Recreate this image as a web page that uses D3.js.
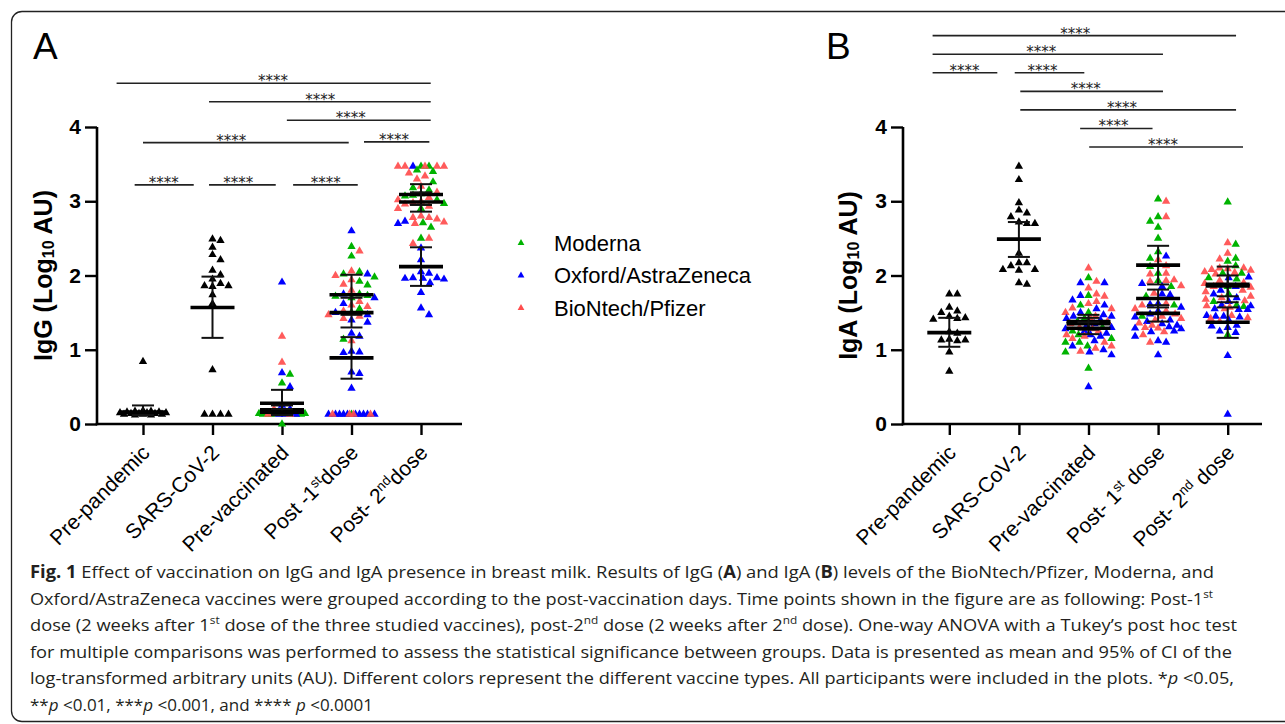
<!DOCTYPE html>
<html>
<head>
<meta charset="utf-8">
<script src="https://cdn.jsdelivr.net/npm/d3@7"></script>
<style>
  body { margin: 0; background: #fff; }
  svg { display: block; font-family: "Liberation Sans", Arial, Helvetica, sans-serif; }
</style>
</head>
<body>
<svg id="fig" width="1285" height="724"></svg>
<script>
var categories = ["Pre-pandemic", "SARS-CoV-2", "Pre-vaccinated", "Post-1st dose", "Post-2nd dose"];
var vaccines = ["Moderna", "Oxford/AstraZeneca", "BioNtech/Pfizer"];
var yTicks = [0, 1, 2, 3, 4];

// IgG (log10 AU), panel A
var iggPrePandemic = [0.84, 0.18, 0.17, 0.17, 0.16, 0.16, 0.15, 0.15, 0.15, 0.14, 0.14, 0.14, 0.13, 0.13, 0.13, 0.12, 0.12];
var iggSarsCov2 = [2.49, 2.47, 2.38, 2.28, 2.21, 2.07, 2.01, 1.95, 1.89, 1.86, 1.86, 1.85, 1.74, 1.62, 0.73, 0.13, 0.13, 0.13, 0.13];
var iggPreVacModerna = [0.67, 0.55, 0.15, 0.14, 0.14, 0.13, 0.13, 0.13, 0.13, 0.0];
var iggPreVacAstra = [1.91, 0.69, 0.50, 0.25, 0.20, 0.15, 0.14, 0.13, 0.13, 0.13];
var iggPreVacPfizer = [1.18, 0.83, 0.20, 0.15, 0.14, 0.13, 0.13];
var iggDose1Moderna = [2.39, 2.26, 2.05, 2.02, 1.98, 1.92, 1.87, 1.75, 1.73, 1.72, 1.70, 1.55, 1.50, 1.14, 0.13];
var iggDose1Astra = [2.60, 2.02, 1.75, 1.70, 1.62, 1.50, 1.47, 1.40, 1.37, 1.22, 1.18, 0.98, 0.97, 0.96, 0.70, 0.68, 0.48, 0.13, 0.13, 0.13, 0.13, 0.13, 0.13, 0.13, 0.13, 0.13, 0.13];
var iggDose1Pfizer = [2.33, 2.06, 2.00, 1.94, 1.88, 1.80, 1.65, 1.60, 1.58, 1.52, 1.47, 1.45, 1.42, 1.12, 0.13, 0.13, 0.13, 0.13];
var iggDose2Moderna = [3.47, 3.47, 3.42, 3.40, 3.26, 3.18, 3.15, 3.10, 3.08, 3.07, 3.02, 2.97, 2.90, 2.71, 2.65, 2.50];
var iggDose2Astra = [3.47, 2.73, 2.70, 2.37, 2.21, 2.05, 2.03, 1.97, 1.97, 1.96, 1.96, 1.95, 1.90, 1.77, 1.56, 1.47];
var iggDose2Pfizer = [3.47, 3.47, 3.47, 3.47, 3.47, 3.38, 3.34, 3.30, 3.20, 3.12, 3.05, 3.02, 3.00, 2.98, 2.96, 2.93, 2.90, 2.80, 2.78, 2.78, 2.76, 2.72, 2.70, 2.50, 2.43];
// [category index, mean, lower 95% CI, upper 95% CI]
var iggMeanCI = [
  [0, 0.16, 0.12, 0.25],
  [1, 1.57, 1.16, 1.985],
  [2, 0.28, 0.12, 0.46], [2, 0.19, 0.13, 0.25], [2, 0.16, 0.12, 0.20],
  [3, 1.74, 1.47, 2.01], [3, 1.50, 1.30, 1.70], [3, 0.89, 0.61, 1.17],
  [4, 3.09, 2.95, 3.23], [4, 2.99, 2.86, 3.12], [4, 2.12, 1.86, 2.38]
];
// [from category, to category, level, label at]
var iggSig = [
  [-0.38, 4.14, 4.59, 1.87], [0.95, 4.14, 4.34, 2.55], [2.07, 4.14, 4.09, 2.99],
  [0.0, 2.96, 3.79, 1.27], [3.18, 4.12, 3.80, 3.61],
  [-0.12, 0.73, 3.22, 0.30], [0.95, 1.91, 3.22, 1.37], [2.16, 3.09, 3.22, 2.63]
];

// IgA (log10 AU), panel B
var igaPrePandemic = [1.75, 1.75, 1.57, 1.52, 1.50, 1.45, 1.43, 1.42, 1.41, 1.24, 1.22, 1.14, 1.13, 1.13, 1.12, 0.97, 0.71];
var igaSarsCov2 = [3.47, 3.29, 2.98, 2.88, 2.84, 2.79, 2.72, 2.70, 2.70, 2.30, 2.17, 2.17, 2.13, 2.08, 2.08, 2.07, 1.90, 1.88];
var igaPreVacModerna = [1.97, 1.73, 1.60, 1.50, 1.42, 1.38, 1.30, 1.25, 1.20, 1.15, 1.10, 1.10, 1.05, 0.97, 0.75];
var igaPreVacAstra = [1.90, 1.90, 1.73, 1.67, 1.60, 1.55, 1.50, 1.47, 1.45, 1.45, 1.42, 1.40, 1.35, 1.32, 1.30, 1.28, 1.25, 1.22, 1.20, 1.18, 1.12, 1.05, 1.00, 0.97, 0.93, 0.50];
var igaPreVacPfizer = [2.10, 1.92, 1.83, 1.75, 1.72, 1.65, 1.62, 1.56, 1.55, 1.50, 1.45, 1.42, 1.38, 1.35, 1.30, 1.28, 1.25, 1.20, 1.18, 1.15, 1.10, 1.05, 1.02, 0.98];
var igaDose1Moderna = [3.03, 2.79, 2.73, 2.65, 2.50, 2.32, 2.23, 2.12, 2.03, 1.93, 1.85, 1.72, 1.60, 1.45];
var igaDose1Astra = [2.26, 1.89, 1.85, 1.75, 1.74, 1.62, 1.61, 1.57, 1.52, 1.48, 1.44, 1.40, 1.38, 1.35, 1.33, 1.31, 1.29, 1.28, 1.25, 1.24, 1.18, 1.12, 1.10, 0.93];
var igaDose1Pfizer = [3.00, 2.79, 2.21, 2.13, 2.03, 2.02, 1.94, 1.93, 1.92, 1.86, 1.76, 1.62, 1.60, 1.55, 1.52, 1.48, 1.45, 1.42, 1.40, 1.36, 1.33, 1.30, 1.29, 1.24, 1.20, 1.10];
var igaDose2Moderna = [2.99, 2.42, 2.23, 2.19, 2.13, 2.03, 2.03, 1.97, 1.95, 1.85, 1.75, 1.65, 1.60, 1.58, 1.20];
var igaDose2Astra = [1.98, 1.97, 1.85, 1.80, 1.75, 1.70, 1.65, 1.60, 1.59, 1.55, 1.54, 1.54, 1.46, 1.45, 1.45, 1.44, 1.40, 1.33, 1.32, 1.30, 1.25, 1.23, 0.92, 0.13];
var igaDose2Pfizer = [2.44, 2.30, 2.22, 2.10, 2.10, 2.09, 2.08, 2.07, 2.05, 2.04, 2.02, 1.93, 1.90, 1.89, 1.85, 1.84, 1.80, 1.78, 1.72, 1.70, 1.68, 1.66, 1.59, 1.57, 1.55, 1.46, 1.43, 1.42, 1.38];
var igaMeanCI = [
  [0, 1.23, 1.04, 1.43],
  [1, 2.49, 2.25, 2.72],
  [2, 1.38, 1.29, 1.47], [2, 1.35, 1.27, 1.43], [2, 1.29, 1.21, 1.37],
  [3, 2.14, 1.88, 2.40], [3, 1.69, 1.57, 1.81], [3, 1.49, 1.38, 1.60],
  [4, 1.88, 1.64, 2.12], [4, 1.86, 1.72, 2.00], [4, 1.37, 1.16, 1.57]
];
var igaSig = [
  [-0.24, 4.12, 5.23, 1.81], [-0.24, 3.07, 4.98, 1.32], [-0.24, 0.69, 4.73, 0.22],
  [0.94, 1.94, 4.73, 1.34], [1.02, 3.07, 4.48, 1.96], [1.02, 4.12, 4.23, 2.48],
  [1.88, 2.92, 3.98, 2.36], [2.01, 4.22, 3.73, 3.07]
];

var captionLines = [
  [["Fig. 1", "b"], ["  Effect of vaccination on IgG and IgA presence in breast milk. Results of IgG ("], ["A", "b"], [") and IgA ("], ["B", "b"], [") levels of the BioNtech/Pfizer, Moderna, and"]],
  [["Oxford/AstraZeneca vaccines were grouped according to the post-vaccination days. Time points shown in the figure are as following: Post-1"], ["st", "sup"]],
  [["dose (2 weeks after 1"], ["st", "sup"], [" dose of the three studied vaccines), post-2"], ["nd", "sup"], [" dose (2 weeks after 2"], ["nd", "sup"], [" dose). One-way ANOVA with a Tukey\u2019s post hoc test"]],
  [["for multiple comparisons was performed to assess the statistical significance between groups. Data is presented as mean and 95% of CI of the"]],
  [["log-transformed arbitrary units (AU). Different colors represent the different vaccine types. All participants were included in the plots. *"], ["p", "i"], [" <0.05,"]],
  [["**"], ["p", "i"], [" <0.01, ***"], ["p", "i"], [" <0.001, and **** "], ["p", "i"], [" <0.0001"]]
];
var captionWidths = [1184, 1183, 1207, 1202, 1204, null];

var color = d3.scaleOrdinal().domain(vaccines.concat(["none"])).range(["#00b300", "#0000ff", "#ff4d4d", "#000000"]);
var svg = d3.select("#fig");

// outer frame
svg.append("path")
  .attr("d", "M1290,11.5H22A10.5,10.5 0 0 0 11.5,22V711A10.5,10.5 0 0 0 22,721.5H1290")
  .attr("fill", "none").attr("stroke", "#222").attr("stroke-width", 1.3);

function group(cat, vals, vac) {
  return vals.map(function(v) { return {cat: cat, v: v, vac: vac}; });
}

var panelA = {
  letter: "A", letterX: 33, left: 97, right: 462, centers: [143, 421], titleX: 43,
  title: "IgG",
  post1: [["Post -1"], ["st", "sup"], ["dose"]], post2: [["Post- 2"], ["nd", "sup"], ["dose"]],
  points: [].concat(
    group(0, iggPrePandemic, "none"), group(1, iggSarsCov2, "none"),
    group(2, iggPreVacModerna, vaccines[0]), group(2, iggPreVacAstra, vaccines[1]), group(2, iggPreVacPfizer, vaccines[2]),
    group(3, iggDose1Moderna, vaccines[0]), group(3, iggDose1Astra, vaccines[1]), group(3, iggDose1Pfizer, vaccines[2]),
    group(4, iggDose2Moderna, vaccines[0]), group(4, iggDose2Astra, vaccines[1]), group(4, iggDose2Pfizer, vaccines[2])),
  meanCI: iggMeanCI, sig: iggSig
};
var panelB = {
  letter: "B", letterX: 826, left: 903, right: 1262, centers: [949.3, 1227.7], titleX: 848,
  title: "IgA",
  post1: [["Post- 1"], ["st", "sup"], [" dose"]], post2: [["Post- 2"], ["nd", "sup"], [" dose"]],
  points: [].concat(
    group(0, igaPrePandemic, "none"), group(1, igaSarsCov2, "none"),
    group(2, igaPreVacModerna, vaccines[0]), group(2, igaPreVacAstra, vaccines[1]), group(2, igaPreVacPfizer, vaccines[2]),
    group(3, igaDose1Moderna, vaccines[0]), group(3, igaDose1Astra, vaccines[1]), group(3, igaDose1Pfizer, vaccines[2]),
    group(4, igaDose2Moderna, vaccines[0]), group(4, igaDose2Astra, vaccines[1]), group(4, igaDose2Pfizer, vaccines[2])),
  meanCI: igaMeanCI, sig: igaSig
};

// simple greedy beeswarm: nearest free slot to the centre, else the least crowded one
function swarm(pts, cx, y, maxHalf) {
  var placed = [], w = 7.4, h = 7;
  var offs = [0];
  for (var d = 1; d <= maxHalf; d++) { offs.push(d, -d); }
  pts.slice().sort(function(a, b) { return b.v - a.v; }).forEach(function(p) {
    var py = y(p.v), chosen = null, best = null, bestD = -1;
    for (var i = 0; i < offs.length; i++) {
      var px = cx + offs[i], minD = Infinity, hit = false;
      placed.forEach(function(q) {
        var dx = Math.abs(q.px - px), dy = Math.abs(q.py - py);
        if (dx < w && dy < h) hit = true;
        minD = Math.min(minD, Math.hypot(dx, dy * 1.2));
      });
      if (!hit) { chosen = px; break; }
      if (minD > bestD) { bestD = minD; best = px; }
    }
    p.px = chosen === null ? best : chosen;
    p.py = py;
    placed.push(p);
  });
  return placed;
}

function addRich(sel, segs, supSize) {
  var shifted = false;
  segs.forEach(function(s) {
    var t = sel.append("tspan").text(s[0]);
    if (s[1] === "b") t.attr("font-weight", "bold");
    if (s[1] === "i") t.attr("font-style", "italic");
    if (s[1] === "sup") { t.attr("font-size", supSize).attr("dy", -7); shifted = true; }
    else if (shifted) { t.attr("dy", 7); shifted = false; }
  });
}

function drawPanel(p) {
  var g = svg.append("g");
  var x = d3.scalePoint().domain(categories).range(p.centers);
  var xi = d3.scaleLinear().domain([0, categories.length - 1]).range(p.centers);
  var y = d3.scaleLinear().domain([0, 4]).range([424, 127]);

  // axes
  var ya = g.append("g").attr("transform", "translate(" + p.left + ",0)")
    .call(d3.axisLeft(y).tickValues(yTicks).tickSize(12).tickSizeOuter(0).tickPadding(4).tickFormat(d3.format("d")));
  ya.select(".domain").attr("stroke-width", 2.6).attr("d", "M0," + y(4) + "V" + (y(0) + 1.3));
  ya.selectAll(".tick line").attr("stroke-width", 2.4);
  ya.selectAll(".tick text").attr("font-size", 21).attr("font-weight", "bold").attr("fill", "#000")
    .style("font-family", "'Liberation Sans', Arial, sans-serif");

  var xa = g.append("g").attr("transform", "translate(0," + y(0) + ")")
    .call(d3.axisBottom(x).tickSize(11).tickSizeOuter(0).tickFormat(""));
  xa.select(".domain").attr("stroke-width", 2.6).attr("d", "M" + (p.left - 1.3) + ",0H" + p.right);
  xa.selectAll(".tick line").attr("stroke-width", 2.4);

  // x labels, rotated
  categories.forEach(function(c, i) {
    var t = g.append("text")
      .attr("transform", "translate(" + (x(c) + 8) + "," + (y(0) + 30) + ") rotate(-45)")
      .attr("text-anchor", "end").attr("font-size", 21).attr("fill", "#000");
    if (i === 3) addRich(t, p.post1, 13.5);
    else if (i === 4) addRich(t, p.post2, 13.5);
    else t.text(c);
  });

  // y title
  var yt = g.append("text")
    .attr("transform", "translate(" + p.titleX + "," + (y(0) + y(4)) / 2 + ") rotate(-90)")
    .attr("text-anchor", "middle").attr("dominant-baseline", "central")
    .attr("font-size", 25).attr("font-weight", "bold").attr("fill", "#000");
  yt.append("tspan").text(p.title + " (Log");
  yt.append("tspan").text("10").attr("font-size", 16).attr("dy", 5);
  yt.append("tspan").text(" AU)").attr("dy", -5);

  // points
  var all = [];
  categories.forEach(function(c, i) {
    all = all.concat(swarm(p.points.filter(function(d) { return d.cat === i; }), x(c), y, 23));
  });
  g.append("g").selectAll("path").data(all).join("path")
    .attr("d", d3.symbol(d3.symbolTriangle, 30))
    .attr("transform", function(d) { return "translate(" + d.px + "," + d.py + ")"; })
    .attr("fill", function(d) { return color(d.vac); })
    .attr("fill-opacity", function(d) { return d.vac === vaccines[2] ? 0.92 : 1; });

  // mean and 95% CI
  var m = g.append("g").selectAll("g").data(p.meanCI).join("g")
    .attr("transform", function(d) { return "translate(" + xi(d[0]) + ",0)"; });
  m.append("line").attr("y1", function(d) { return y(d[2]); }).attr("y2", function(d) { return y(d[3]); })
    .attr("stroke", "#111").attr("stroke-width", 2);
  m.append("line").attr("x1", -11).attr("x2", 11).attr("y1", function(d) { return y(d[2]); }).attr("y2", function(d) { return y(d[2]); })
    .attr("stroke", "#111").attr("stroke-width", 2);
  m.append("line").attr("x1", -11).attr("x2", 11).attr("y1", function(d) { return y(d[3]); }).attr("y2", function(d) { return y(d[3]); })
    .attr("stroke", "#111").attr("stroke-width", 2);
  m.append("line").attr("x1", -22).attr("x2", 22).attr("y1", function(d) { return y(d[1]); }).attr("y2", function(d) { return y(d[1]); })
    .attr("stroke", "#000").attr("stroke-width", 3.6);

  // significance brackets
  var s = g.append("g").selectAll("g").data(p.sig).join("g");
  s.append("line")
    .attr("x1", function(d) { return xi(d[0]); }).attr("x2", function(d) { return xi(d[1]); })
    .attr("y1", function(d) { return y(d[2]); }).attr("y2", function(d) { return y(d[2]); })
    .attr("stroke", "#222").attr("stroke-width", 1.6);
  s.append("text")
    .attr("x", function(d) { return xi(d[3]); }).attr("y", function(d) { return y(d[2]) + 3; })
    .attr("text-anchor", "middle").attr("font-size", 15).attr("fill", "#222")
    .style("font-family", "'DejaVu Sans', sans-serif").text("****");

  // panel letter
  g.append("text").attr("x", p.letterX).attr("y", 59).attr("font-size", 37).attr("fill", "#000").text(p.letter);
}

drawPanel(panelA);
drawPanel(panelB);

// legend
var ly = d3.scalePoint().domain(vaccines).range([243, 308]);
var lg = svg.append("g").selectAll("g").data(vaccines).join("g")
  .attr("transform", function(d) { return "translate(0," + ly(d) + ")"; });
lg.append("path").attr("d", d3.symbol(d3.symbolTriangle, 20)).attr("transform", "translate(521,0)")
  .attr("fill", function(d) { return color(d); });
lg.append("text").attr("x", 554).attr("dy", "0.36em").attr("font-size", 22).attr("fill", "#000")
  .text(function(d) { return d; });

// caption
var cap = svg.append("g");
captionLines.forEach(function(line, i) {
  var t = cap.append("text").attr("x", 30).attr("y", 578 + i * 26.6)
    .style("font-family", "'Open Sans', 'Noto Sans', sans-serif").attr("font-size", 17).attr("fill", "#231f20");
  if (captionWidths[i]) t.attr("textLength", captionWidths[i]).attr("lengthAdjust", "spacingAndGlyphs");
  addRich(t, line, 11);
});
</script>
</body>
</html>
